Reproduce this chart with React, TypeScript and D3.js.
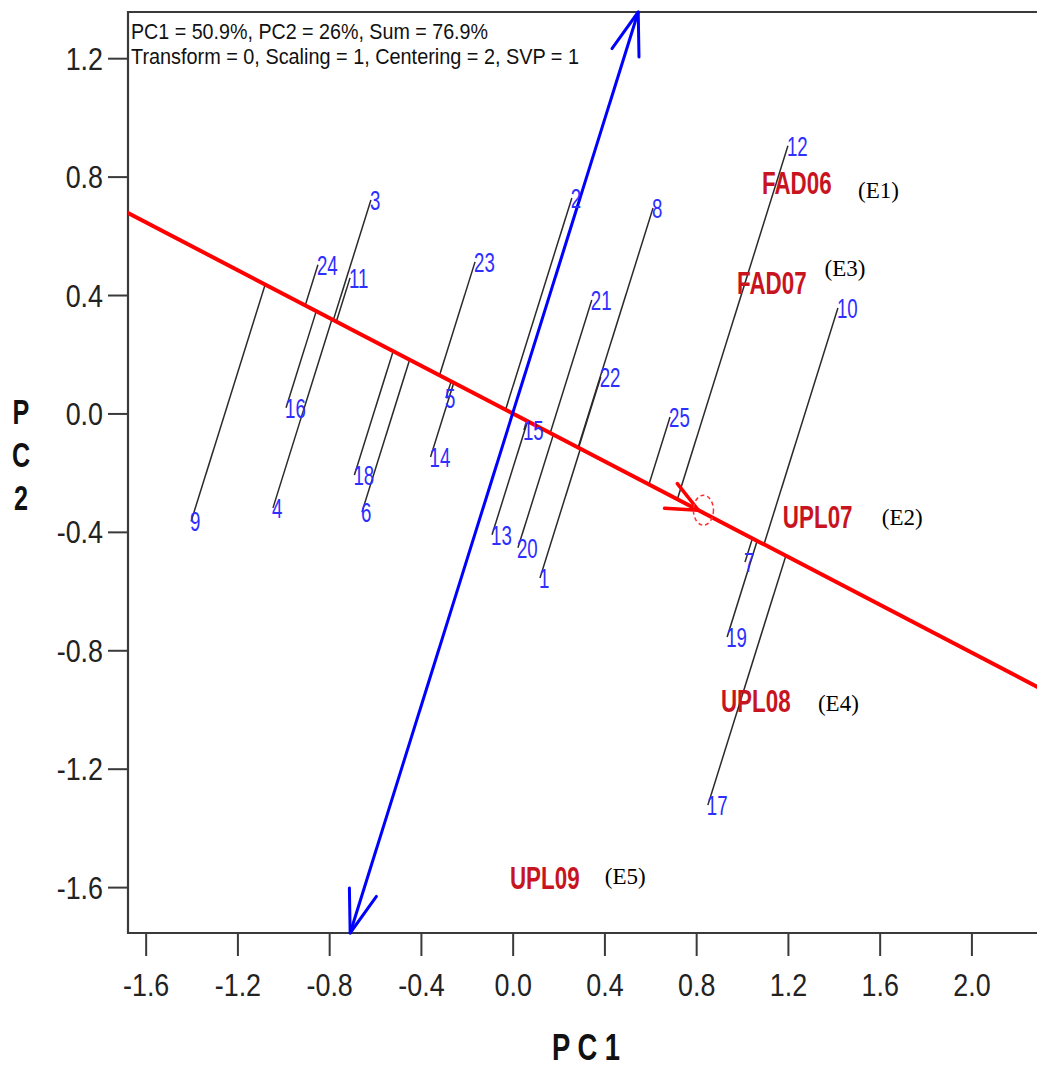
import React, { useEffect, useRef } from 'react';
import * as d3 from 'd3';

// header text in the top left of the plot
const headerLines = [
  'PC1 = 50.9%, PC2 = 26%, Sum = 76.9%',
  'Transform = 0, Scaling = 1, Centering = 2, SVP = 1',
];

// genotypes (blue numbers), PC1 / PC2 scores
const genotypes = ['1', '2', '3', '4', '5', '6', '7', '8', '9', '10', '11', '12', '13',
  '14', '15', '16', '17', '18', '19', '20', '21', '22', '23', '24', '25'];
const genoPC1 = [0.119, 0.258, -0.618, -1.045, -0.291, -0.657, 1.013, 0.612, -1.402, 1.418,
  -0.709, 1.2, -0.09, -0.358, 0.049, -0.988, 0.851, -0.69, 0.935, 0.023, 0.345, 0.384,
  -0.164, -0.849, 0.686];
const genoPC2 = [-0.556, 0.728, 0.721, -0.319, 0.052, -0.333, -0.502, 0.694, -0.365, 0.356,
  0.458, 0.904, -0.41, -0.147, -0.056, 0.019, -1.323, -0.208, -0.755, -0.454, 0.383, 0.123,
  0.512, 0.502, -0.012];

// environments (red labels)
const environments = ['FAD06', 'FAD07', 'UPL07', 'UPL08', 'UPL09'];
const envPC1 = [1.087, 0.978, 1.178, 0.908, -0.012];
const envPC2 = [0.78, 0.443, -0.349, -0.971, -1.566];

// environment codes written next to them
const envCodes = ['(E1)', '(E3)', '(E2)', '(E4)', '(E5)'];
const codePC1 = [1.506, 1.36, 1.609, 1.331, 0.402];
const codePC2 = [0.755, 0.49, -0.349, -0.978, -1.5625];

// average environment (direction of the AEC abscissa)
const avgEnv = [0.81, -0.327];

const xTicks = [-1.6, -1.2, -0.8, -0.4, 0.0, 0.4, 0.8, 1.2, 1.6, 2.0];
const yTicks = [1.2, 0.8, 0.4, 0.0, -0.4, -0.8, -1.2, -1.6];

export default function App() {
  const ref = useRef<SVGSVGElement>(null);

  useEffect(() => {
    const svg = d3.select(ref.current);
    svg.selectAll('*').remove();

    const left = 128, right = 1040, top = 12, bottom = 933;
    const x = d3.scaleLinear().domain([-1.677, 2.299]).range([left, right]);
    const y = d3.scaleLinear().domain([-1.755, 1.356]).range([bottom, top]);

    svg.append('clipPath').attr('id', 'plotclip')
      .append('rect')
      .attr('x', left).attr('y', top)
      .attr('width', right - left).attr('height', bottom - top);

    // axes
    const xAxis = svg.append('g')
      .attr('transform', 'translate(0,' + bottom + ')')
      .call(d3.axisBottom(x).tickValues(xTicks).tickSize(23).tickSizeOuter(0)
        .tickFormat((d: any) => d.toFixed(1)));
    xAxis.select('.domain').remove();
    xAxis.selectAll('line').attr('stroke', '#3a3a3a').attr('stroke-width', 2);
    xAxis.selectAll('text')
      .attr('y', 63).attr('dy', 0)
      .attr('transform', 'scale(0.84,1)')
      .attr('font-family', 'Liberation Sans, Arial, sans-serif')
      .attr('font-size', 32)
      .attr('fill', '#222');

    const yAxis = svg.append('g')
      .attr('transform', 'translate(' + left + ',0)')
      .call(d3.axisLeft(y).tickValues(yTicks).tickSize(20).tickSizeOuter(0)
        .tickFormat((d: any) => d.toFixed(1)));
    yAxis.select('.domain').remove();
    yAxis.selectAll('line').attr('stroke', '#3a3a3a').attr('stroke-width', 2);
    yAxis.selectAll('text')
      .attr('x', -25 / 0.84).attr('dy', 0).attr('y', 11)
      .attr('transform', 'scale(0.84,1)')
      .attr('font-family', 'Liberation Sans, Arial, sans-serif')
      .attr('font-size', 32)
      .attr('fill', '#222');

    // frame (no right edge visible)
    svg.append('path')
      .attr('d', `M${1037},${top}H${left}V${bottom}H${1037}`)
      .attr('fill', 'none')
      .attr('stroke', '#3a3a3a')
      .attr('stroke-width', 2.2);

    // axis titles
    svg.append('text')
      .attr('x', 586).attr('y', 1060)
      .attr('text-anchor', 'middle')
      .attr('font-family', 'Liberation Sans, Arial, sans-serif')
      .attr('font-weight', 'bold')
      .attr('font-size', 37)
      .attr('textLength', 68)
      .attr('lengthAdjust', 'spacingAndGlyphs')
      .attr('fill', '#111')
      .text('P C 1');

    const ytitle = svg.append('g')
      .attr('transform', 'translate(21,424) scale(0.72,1)')
      .append('text')
      .attr('text-anchor', 'middle')
      .attr('font-family', 'Liberation Sans, Arial, sans-serif')
      .attr('font-weight', 'bold')
      .attr('font-size', 35)
      .attr('fill', '#111');
    ['P', 'C', '2'].forEach((ch, i) => {
      ytitle.append('tspan').attr('x', 0).attr('dy', i === 0 ? 0 : 43).text(ch);
    });

    // header
    const headerWidths = [357, 448];
    headerLines.forEach((line, i) => {
      svg.append('text')
        .attr('x', 131).attr('y', 39 + i * 25)
        .attr('font-family', 'Liberation Sans, Arial, sans-serif')
        .attr('font-size', 22)
        .attr('textLength', headerWidths[i])
        .attr('lengthAdjust', 'spacingAndGlyphs')
        .attr('fill', '#111')
        .text(line);
    });

    const plot = svg.append('g').attr('clip-path', 'url(#plotclip)');

    // unit vector of the AEC abscissa and its perpendicular
    const len = Math.hypot(avgEnv[0], avgEnv[1]);
    const u = [avgEnv[0] / len, avgEnv[1] / len];
    const v = [-u[1], u[0]];

    // genotype projection lines
    const geno = genotypes.map((g, i) => ({ name: g, px: genoPC1[i], py: genoPC2[i] }));
    plot.selectAll('.proj')
      .data(geno)
      .enter().append('line')
      .attr('class', 'proj')
      .attr('x1', d => x(d.px))
      .attr('y1', d => y(d.py))
      .attr('x2', d => x((d.px * u[0] + d.py * u[1]) * u[0]))
      .attr('y2', d => y((d.px * u[0] + d.py * u[1]) * u[1]))
      .attr('stroke', '#2a2a2a')
      .attr('stroke-width', 1.5);

    // AEC abscissa (red)
    plot.append('line')
      .attr('x1', x(-5 * u[0])).attr('y1', y(-5 * u[1]))
      .attr('x2', x(5 * u[0])).attr('y2', y(5 * u[1]))
      .attr('stroke', '#ff0000')
      .attr('stroke-width', 4);

    // arrow on the red line at the average environment
    const barb = (tipX: number, tipY: number, backX: number, backY: number, ang: number, l: number) => {
      const a = Math.atan2(backY - tipY, backX - tipX) + ang;
      return [tipX + Math.cos(a) * l, tipY + Math.sin(a) * l];
    };
    const tip = [x(avgEnv[0]), y(avgEnv[1])];
    const o = [x(0), y(0)];
    [-0.42, 0.42].forEach(a => {
      const b = barb(tip[0], tip[1], o[0], o[1], a, 34);
      svg.append('line')
        .attr('x1', tip[0]).attr('y1', tip[1])
        .attr('x2', b[0]).attr('y2', b[1])
        .attr('stroke', '#ff0000')
        .attr('stroke-width', 3.5)
        .attr('stroke-linecap', 'round');
    });
    svg.append('ellipse')
      .attr('cx', tip[0] + 5).attr('cy', tip[1])
      .attr('rx', 10).attr('ry', 15)
      .attr('fill', 'none')
      .attr('stroke', '#ff3030')
      .attr('stroke-width', 1.5)
      .attr('stroke-dasharray', '4,3');

    // AEC ordinate (blue) with arrows at both plot edges
    const xDom = x.domain(), yDom = y.domain();
    const edgeT = (sgn: number) => {
      const dx = v[0] * sgn, dy = v[1] * sgn;
      const tx = dx > 0 ? xDom[1] / dx : xDom[0] / dx;
      const ty = dy > 0 ? yDom[1] / dy : yDom[0] / dy;
      return Math.min(tx, ty);
    };
    const ends = [1, -1].map(s => {
      const t = edgeT(s);
      return [x(v[0] * s * t), y(v[1] * s * t)];
    });
    svg.append('line')
      .attr('x1', ends[0][0]).attr('y1', ends[0][1])
      .attr('x2', ends[1][0]).attr('y2', ends[1][1])
      .attr('stroke', '#0000ff')
      .attr('stroke-width', 3);
    ends.forEach(e => {
      [-0.32, 0.32].forEach(a => {
        const b = barb(e[0], e[1], o[0], o[1], a, 45);
        svg.append('line')
          .attr('x1', e[0]).attr('y1', e[1])
          .attr('x2', b[0]).attr('y2', b[1])
          .attr('stroke', '#0000ff')
          .attr('stroke-width', 3)
          .attr('stroke-linecap', 'round');
      });
    });

    // genotype labels (narrow font look via horizontal squeeze)
    svg.selectAll('.geno')
      .data(geno)
      .enter().append('g')
      .attr('class', 'geno')
      .attr('transform', d => `translate(${x(d.px) - 1},${y(d.py) + 10}) scale(0.667,1)`)
      .append('text')
      .attr('font-family', 'Liberation Sans, Arial, sans-serif')
      .attr('font-size', 28)
      .attr('fill', '#2e2eff')
      .text(d => d.name);

    // environment labels
    const env = environments.map((e, i) => ({ name: e, px: envPC1[i], py: envPC2[i] }));
    svg.selectAll('.env')
      .data(env)
      .enter().append('g')
      .attr('class', 'env')
      .attr('transform', d => `translate(${x(d.px)},${y(d.py) + 11.5}) scale(0.70,1)`)
      .append('text')
      .attr('font-family', 'Liberation Sans, Arial, sans-serif')
      .attr('font-weight', 'bold')
      .attr('font-size', 32)
      .attr('fill', '#c8141e')
      .text(d => d.name);

    const codes = envCodes.map((c, i) => ({ name: c, px: codePC1[i], py: codePC2[i] }));
    svg.selectAll('.code')
      .data(codes)
      .enter().append('text')
      .attr('class', 'code')
      .attr('x', d => x(d.px))
      .attr('y', d => y(d.py) + 8)
      .attr('font-family', 'Liberation Serif, Times New Roman, serif')
      .attr('font-size', 23)
      .attr('fill', '#000')
      .text(d => d.name);
  }, []);

  return (
    <svg ref={ref} width={1037} height={1069}
      style={{ position: 'absolute', left: 0, top: 0, background: '#fff' }} />
  );
}
